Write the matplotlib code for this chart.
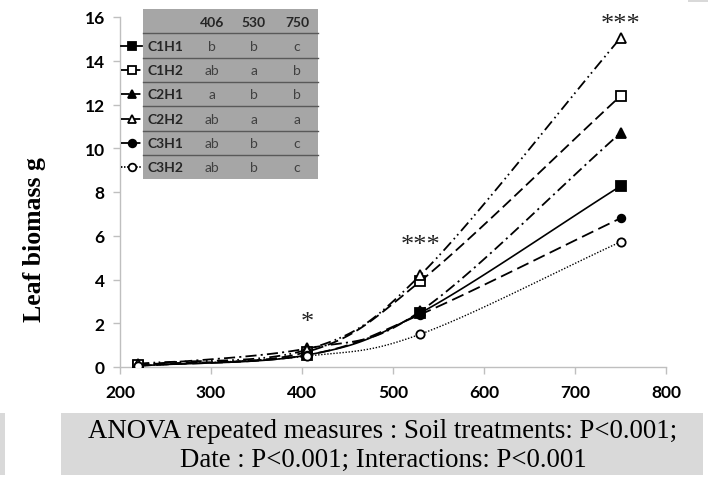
import numpy as np
import matplotlib
matplotlib.use("Agg")
import matplotlib.pyplot as plt
from matplotlib.patches import Rectangle
from matplotlib.lines import Line2D

plt.rcParams['lines.scale_dashes'] = False

# ---------------- data ----------------
dates = [220, 406, 530, 750]
series_names = ["C1H1", "C1H2", "C2H1", "C2H2", "C3H1", "C3H2"]
c1h1 = [0.05, 0.55, 2.47, 8.27]
c1h2 = [0.10, 0.70, 3.92, 12.39]
c2h1 = [0.08, 0.85, 2.55, 10.70]
c2h2 = [0.15, 0.80, 4.20, 15.04]
c3h1 = [0.05, 0.55, 2.40, 6.80]
c3h2 = [0.05, 0.50, 1.50, 5.72]
header = ["406", "530", "750"]
letters = [["b", "b", "c"],
           ["ab", "a", "b"],
           ["a", "b", "b"],
           ["ab", "a", "a"],
           ["ab", "b", "c"],
           ["ab", "b", "c"]]
sig_x = [406, 530, 750]
sig_y = [2.05, 5.6, 15.7]
sig_txt = ["*", "***", "***"]
xticks = [200, 300, 400, 500, 600, 700, 800]
yticks = [0, 2, 4, 6, 8, 10, 12, 14, 16]
ylabel = "Leaf biomass g"
note = "ANOVA repeated measures : Soil treatments: P<0.001;\nDate : P<0.001; Interactions: P<0.001"

values = [c1h1, c1h2, c2h1, c2h2, c3h1, c3h2]
styles = [
    dict(marker='s', mfc='black', dashes=None, lw=1.2),
    dict(marker='s', mfc='white', dashes=(8, 3.5), lw=1.3),
    dict(marker='^', mfc='black', dashes=(8, 3, 1.5, 3), lw=1.3),
    dict(marker='^', mfc='white', dashes=(8, 3, 1.2, 2.5, 1.2, 3), lw=1.3),
    dict(marker='o', mfc='black', dashes=(9, 4), lw=1.3),
    dict(marker='o', mfc='white', dashes=(1.0, 1.2), lw=1.0),
]


def smooth(x, y, n=40):
    """Catmull-Rom curve through the given points (drawing only)."""
    x = np.asarray(x, float); y = np.asarray(y, float)
    P = np.column_stack([x, y])
    P = np.vstack([P[0] - (P[1] - P[0]), P, P[-1] + (P[-1] - P[-2])])
    out = []
    for i in range(1, len(P) - 2):
        p0, p1, p2, p3 = P[i - 1], P[i], P[i + 1], P[i + 2]
        t = np.linspace(0, 1, n)[:, None]
        seg = 0.5 * ((2 * p1) + (-p0 + p2) * t + (2 * p0 - 5 * p1 + 4 * p2 - p3) * t ** 2
                     + (-p0 + 3 * p1 - 3 * p2 + p3) * t ** 3)
        out.append(seg if i == 1 else seg[1:])
    S = np.vstack(out)
    return S[:, 0], S[:, 1]


W, H = 708, 481
fig = plt.figure(figsize=(W / 100, H / 100), dpi=100)
ax = fig.add_axes([120 / W, 1 - 368 / H, (666 - 120) / W, (368 - 18) / H])

for vals, st in zip(values, styles):
    sx, sy = smooth(dates, vals)
    ln, = ax.plot(sx, sy, color='black', lw=st['lw'], solid_capstyle='butt')
    if st['dashes'] is not None:
        ln.set_dashes(st['dashes'])
    ms = 7 if st['marker'] == 's' else (7 if st['marker'] == '^' else 6)
    if st['marker'] == 'o' and st['mfc'] == 'black':
        ms = 5.5
    ax.plot(dates, vals, linestyle='none', marker=st['marker'], ms=ms,
            mfc=st['mfc'], mec='black', mew=1.3, zorder=5)

for x, y, t in zip(sig_x, sig_y, sig_txt):
    ax.text(x, y, t, ha='center', va='center', fontsize=19,
            family='Liberation Serif', color='#222222')

ax.set_xlim(200, 800)
ax.set_ylim(0, 16)
ax.set_xticks(xticks)
ax.set_yticks(yticks)
for s in ['top', 'right']:
    ax.spines[s].set_visible(False)
for s in ['left', 'bottom']:
    ax.spines[s].set_color('#bfbfbf')
    ax.spines[s].set_linewidth(1.0)
ax.tick_params(axis='both', colors='#bfbfbf', length=5, width=1.0, direction='out',
               labelcolor='black', labelsize=12.5)
ax.tick_params(axis='x', pad=7)
ax.tick_params(axis='y', pad=6)
for lab in ax.get_xticklabels() + ax.get_yticklabels():
    lab.set_family('Lato')
    lab.set_fontweight('bold')

fig.text(35 / W, 1 - 240 / H, ylabel, rotation=90, ha='center', va='center',
         fontsize=18.5, fontweight='bold', family='Liberation Serif')

# ---------------- legend table ----------------
def fx(px):
    return px / W


def fy(py):
    return 1 - py / H


x0, x1, ytop, ybot = 143, 318, 10, 180
fig.patches.append(Rectangle((fx(x0), fy(ybot)), fx(x1) - fx(x0), fy(ytop) - fy(ybot),
                             transform=fig.transFigure, facecolor='#a6a6a6',
                             edgecolor='none', zorder=1))
row_lines = [34, 59, 83, 107, 132, 156]
for ry in row_lines:
    fig.add_artist(Line2D([fx(x0), fx(x1)], [fy(ry), fy(ry)], transform=fig.transFigure,
                          color='#595959', lw=1.0, zorder=2))
col_x = [212, 254, 297]
for cx, h in zip(col_x, header):
    fig.text(fx(cx), fy(23), h, ha='center', va='center', fontsize=10,
             fontweight='bold', family='Lato', color='#262626', zorder=3)
row_y = [47, 71, 95, 120, 144, 168]
for ry, name, lets, st in zip(row_y, series_names, letters, styles):
    fig.text(fx(148), fy(ry), name, ha='left', va='center', fontsize=10,
             fontweight='bold', family='Lato', color='#262626', zorder=3)
    for cx, l in zip(col_x, lets):
        fig.text(fx(cx), fy(ry), l, ha='center', va='center', fontsize=10,
                 family='Lato', color='#404040', zorder=3)
    ln = Line2D([fx(121), fx(142)], [fy(ry), fy(ry)], transform=fig.transFigure,
                color='black', lw=1.3, zorder=3)
    if st['dashes'] is not None:
        ln.set_dashes((1.0, 1.2) if st['lw'] < 1.2 else (6, 2))
    fig.add_artist(ln)
    ms = 6 if st['marker'] != 'o' else 5.5
    fig.add_artist(Line2D([fx(132)], [fy(ry)], transform=fig.transFigure, linestyle='none',
                          marker=st['marker'], ms=ms, mfc=st['mfc'], mec='black',
                          mew=1.3, zorder=4))

# ---------------- bottom note ----------------
fig.patches.append(Rectangle((fx(61), fy(476)), fx(703) - fx(61), fy(414) - fy(476),
                             transform=fig.transFigure, facecolor='#d9d9d9',
                             edgecolor='none', zorder=0))
fig.patches.append(Rectangle((0, fy(476)), fx(5), fy(414) - fy(476),
                             transform=fig.transFigure, facecolor='#d9d9d9',
                             edgecolor='none', zorder=0))
fig.patches.append(Rectangle((fx(688), fy(3)), fx(708) - fx(688), fy(0) - fy(3),
                             transform=fig.transFigure, facecolor='#d9d9d9',
                             edgecolor='none', zorder=0))
fig.text(fx(383), fy(446), note, ha='center', va='center', fontsize=19.3,
         family='Liberation Serif', linespacing=1.22, color='black')

fig.savefig("out.png", dpi=100)
